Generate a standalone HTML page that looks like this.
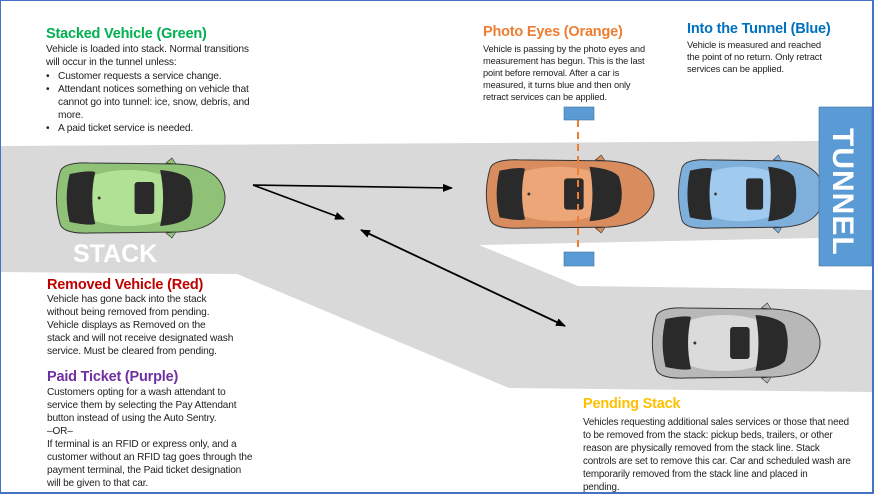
<!DOCTYPE html>
<html><head><meta charset="utf-8"><style>
body{margin:0;background:#fff}
#p{position:relative;width:877px;height:495px;overflow:hidden;background:#fff;font-family:"Liberation Sans",sans-serif}
#frame{position:absolute;left:0;top:0;width:871px;height:491px;border:1px solid #4472c4;border-right:2px solid #4472c4;border-bottom:2px solid #4472c4}
.t{position:absolute;white-space:nowrap;font-weight:bold;font-size:14.5px;letter-spacing:-0.2px}
.b{position:absolute;white-space:nowrap;font-size:9.3px;color:#222;line-height:13px;letter-spacing:-0.15px}
ul{margin:0;padding:0;list-style:none}
li{position:relative;padding-left:12px}
li:before{content:"•";position:absolute;left:0}
</style></head><body><div id="p">
<svg width="877" height="495" style="position:absolute;left:0;top:0">
<defs>
<marker id="ah" markerWidth="10" markerHeight="8" refX="9" refY="4" orient="auto" markerUnits="userSpaceOnUse"><path d="M0,0 L10,4 L0,8 Z" fill="#000"/></marker>
<marker id="as" markerWidth="10" markerHeight="8" refX="1" refY="4" orient="auto" markerUnits="userSpaceOnUse"><path d="M10,0 L0,4 L10,8 Z" fill="#000"/></marker>
</defs>
<polygon points="0,146 819,141 819,238 479,245 578,286 872,290 872,392 509,388 237,274 0,272" fill="#d9d9d9"/>
<g id="cars"></g>
<line x1="253" y1="185" x2="452" y2="188" stroke="#000" stroke-width="1.6" marker-end="url(#ah)"/>
<line x1="253" y1="185" x2="344" y2="219" stroke="#000" stroke-width="1.6" marker-end="url(#ah)"/>
<line x1="361" y1="230" x2="565" y2="326" stroke="#000" stroke-width="1.8" marker-start="url(#as)" marker-end="url(#ah)"/>
<line x1="578" y1="120" x2="578" y2="252" stroke="#ed7d31" stroke-width="2" stroke-dasharray="7,5"/>
<rect x="564" y="107" width="30" height="13" fill="#5b9bd5" stroke="#41719c" stroke-width="0.6"/>
<rect x="564" y="252" width="30" height="14" fill="#5b9bd5" stroke="#41719c" stroke-width="0.6"/>
<rect x="819" y="107" width="53" height="159" fill="#5b9bd5" stroke="#41719c" stroke-width="0.6"/>
<text transform="translate(833,128) rotate(90)" font-family="Liberation Sans" font-size="30" font-weight="bold" fill="#fff" letter-spacing="1">TUNNEL</text>
<text x="73" y="262" font-family="Liberation Sans" font-size="25" font-weight="bold" fill="#fff">STACK</text>
</svg>

<div class="t" style="left:46px;top:26px;color:#00b050">Stacked Vehicle (Green)</div>
<div class="b" style="left:46px;top:43px;font-size:10.2px">Vehicle is loaded into stack. Normal transitions<br>will occur in the tunnel unless:
<ul style="margin-top:1px"><li>Customer requests a service change.</li><li>Attendant notices something on vehicle that<br>cannot go into tunnel: ice, snow, debris, and<br>more.</li><li>A paid ticket service is needed.</li></ul></div>

<div class="t" style="left:47px;top:277px;color:#c00000">Removed Vehicle (Red)</div>
<div class="b" style="left:47px;top:293px;font-size:10.2px">Vehicle has gone back into the stack<br>without being removed from pending.<br>Vehicle displays as Removed on the<br>stack and will not receive designated wash<br>service. Must be cleared from pending.</div>

<div class="t" style="left:47px;top:369px;color:#7030a0">Paid Ticket (Purple)</div>
<div class="b" style="left:47px;top:386px;font-size:10.1px">Customers opting for a wash attendant to<br>service them by selecting the Pay Attendant<br>button instead of using the Auto Sentry.<br>–OR–<br>If terminal is an RFID or express only, and a<br>customer without an RFID tag goes through the<br>payment terminal, the Paid ticket designation<br>will be given to that car.</div>

<div class="t" style="left:483px;top:24px;color:#ed7d31">Photo Eyes (Orange)</div>
<div class="b" style="left:483px;top:43px;line-height:12px">Vehicle is passing by the photo eyes and<br>measurement has begun. This is the last<br>point before removal. After a car is<br>measured, it turns blue and then only<br>retract services can be applied.</div>

<div class="t" style="left:687px;top:21px;color:#0070c0">Into the Tunnel (Blue)</div>
<div class="b" style="left:687px;top:39px;line-height:12px;font-size:9.4px">Vehicle is measured and reached<br>the point of no return. Only retract<br>services can be applied.</div>

<div class="t" style="left:583px;top:396px;color:#ffc000">Pending Stack</div>
<div class="b" style="left:583px;top:416px;font-size:9.8px">Vehicles requesting additional sales services or those that need<br>to be removed from the stack: pickup beds, trailers, or other<br>reason are physically removed from the stack line. Stack<br>controls are set to remove this car. Car and scheduled wash are<br>temporarily removed from the stack line and placed in<br>pending.</div>

<div id="frame"></div>
</div>
<script>
function car(x,y,w,h,body,light){
 var sx=w/180,sy=h/80;
 return '<g transform="translate('+x+','+y+') scale('+sx+','+sy+')">'+
 '<path d="M118,5 L124,0 L128,6Z M118,75 L124,80 L128,74Z" fill="'+body+'" stroke="#333" stroke-width="0.6"/>'+
 '<path d="M10,15 Q12,4 40,5 L130,6 Q168,8 176,30 Q180,40 176,50 Q168,72 130,74 L40,75 Q12,76 10,65 Q3,40 10,15Z" fill="'+body+'" stroke="#333" stroke-width="1"/>'+
 '<ellipse cx="80" cy="40" rx="60" ry="28" fill="'+light+'" opacity="0.6"/>'+
 '<path d="M20,16 Q40,12 46,14 Q40,40 46,66 Q40,68 20,64 Q14,40 20,16Z" fill="#2a2a2a"/>'+
 '<path d="M112,12 Q135,14 142,22 Q148,40 142,58 Q135,66 112,68 Q118,40 112,12Z" fill="#2a2a2a"/>'+
 '<rect x="86" y="24" width="20" height="32" rx="3" fill="#2a2a2a"/>'+
 '<circle cx="50" cy="40" r="1.5" fill="#333"/></g>';
}
document.getElementById('cars').innerHTML=
 car(50,158,177,80,'#8fc277','#c7f5a8')+
 car(480,155,176,78,'#d98d5e','#f8b88a')+
 car(673,155,153,78,'#7fb0dc','#b5dcfa')+
 car(646,303,176,80,'#b8b8b8','#f2f2f2');
</script>
</body></html>
